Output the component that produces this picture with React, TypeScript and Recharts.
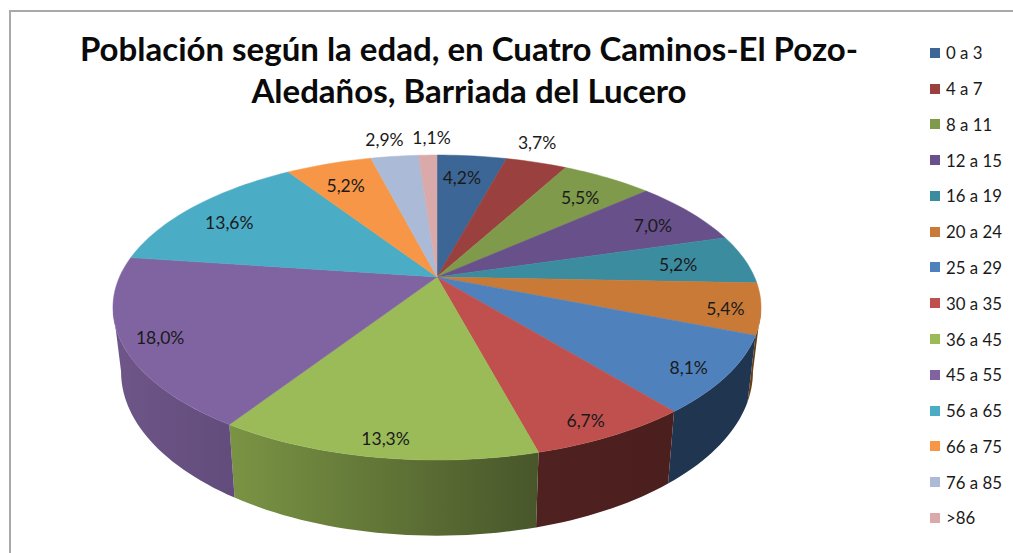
import { Legend, Pie, PieChart } from "recharts";

const ageGroups = ["0 a 3", "4 a 7", "8 a 11", "12 a 15", "16 a 19", "20 a 24", "25 a 29", "30 a 35", "36 a 45", "45 a 55", "56 a 65", "66 a 75", "76 a 85", ">86"];
const shares = [4.2, 3.7, 5.5, 7.0, 5.2, 5.4, 8.1, 6.7, 13.3, 18.0, 13.6, 5.2, 2.9, 1.1];
const topColors = ["#3C6695", "#9A403E", "#7E9A4A", "#68508A", "#3C8CA0", "#C97A36", "#4F81BD", "#C0504D", "#9BBB59", "#8064A2", "#4BACC6", "#F79646", "#AABAD7", "#D9AAA9"];
// wall shading, left and right end of each slice's visible side
const wallLeft = ["#000", "#000", "#000", "#000", "#000", "#6B4216", "#1F3550", "#4F2120", "#7A9444", "#6E5788", "#000", "#000", "#000", "#000"];
const wallRight = ["#000", "#000", "#000", "#000", "#000", "#5E3A12", "#1F3550", "#4B1F1E", "#48562A", "#624C7C", "#000", "#000", "#000", "#000"];

const pieData = ageGroups.map((name, i) => ({ name, value: shares[i], fill: topColors[i] }));

// small hand nudges so the labels land where Excel's best fit put them
const labelDx = [-4, -14, 3, 10, -6, -2, -6, -6, 3, 4, -10, -2, -4, 5];
const labelDy = [1, -3, 2, 1, 2, 3, 3, 4, 3, 1, 3, 2, 1, 0];

const TILT = 0.461;
const PERSPECTIVE = 0.2;
// the rim is widest here, so the sides of the wall are tangent at these angles
const WALL_FROM = 101.4;
const WALL_TO = 258.6;

// angle is degrees clockwise from 12 o'clock, r is a fraction of the radius
const project = (cx: number, cy: number, radius: number, angle: number, r = 1) => {
  const rad = (angle * Math.PI) / 180;
  const depth = -Math.cos(rad) * r;
  const s = 1 / (1 - PERSPECTIVE * depth);
  return [cx + radius * Math.sin(rad) * r * s, cy + radius * TILT * depth * s];
};

// the lower rim sits a little narrower and further down than the upper one
const dropToBase = (cx: number, cy: number, [x, y]: number[]) => [cx + (x - cx) * 0.975, cy + 62 + (y - cy) * 1.075];

const arc = (cx: number, cy: number, radius: number, from: number, to: number) => {
  const steps = Math.max(2, Math.ceil((to - from) / 1.5));
  const pts: number[][] = [];
  for (let i = 0; i <= steps; i++) {
    pts.push(project(cx, cy, radius, from + ((to - from) * i) / steps));
  }
  return pts;
};

const toPath = (pts: number[][]) => pts.map((p, i) => `${i ? "L" : "M"}${p[0].toFixed(2)} ${p[1].toFixed(2)}`).join(" ") + " Z";

const Slice3D = (props: any) => {
  const { cx, cy, outerRadius, startAngle, endAngle, fill, index } = props;
  const from = 90 - startAngle;
  const to = 90 - endAngle;
  const rim = arc(cx, cy, outerRadius, from, to);
  const wallA = Math.max(from, WALL_FROM);
  const wallB = Math.min(to, WALL_TO);
  let wall = null;
  if (wallB > wallA) {
    const upper = arc(cx, cy, outerRadius, wallA, wallB);
    const lower = upper.map((p) => dropToBase(cx, cy, p)).reverse();
    const xs = [...upper, ...lower].map((p) => p[0]);
    const id = `wall-${index}`;
    wall = (
      <>
        <defs>
          <linearGradient id={id} gradientUnits="userSpaceOnUse" x1={Math.min(...xs)} y1={0} x2={Math.max(...xs)} y2={0}>
            <stop offset="0%" stopColor={wallLeft[index]} />
            <stop offset="100%" stopColor={wallRight[index]} />
          </linearGradient>
        </defs>
        <path d={toPath([...upper, ...lower])} fill={`url(#${id})`} />
      </>
    );
  }
  return (
    <g>
      {wall}
      <path d={toPath([[cx, cy], ...rim])} fill={fill} stroke={fill} strokeWidth={0.5} />
    </g>
  );
};

const SliceLabel = (props: any) => {
  const { cx, cy, outerRadius, midAngle, value, index } = props;
  const angle = 90 - midAngle;
  let r = 0.8;
  if (value < 4) r = 1.18;
  else if (angle > 90 && angle < 270) r = 0.9;
  const [x, y] = project(cx, cy, outerRadius, angle, r);
  return (
    <text x={x + labelDx[index]} y={y + labelDy[index]} textAnchor="middle" dominantBaseline="central" fontFamily="Lato" fontSize={17.5} fill="#1a1a1a">
      {value.toFixed(1).replace(".", ",")}%
    </text>
  );
};

const LegendList = (props: any) => (
  <div>
    {(props.payload || []).map((item: any) => (
      <div key={item.value} style={{ height: 35.77, display: "flex", alignItems: "center", fontFamily: "Lato", fontSize: 16.8, color: "#1a1a1a" }}>
        <span style={{ width: 10, height: 10, background: item.color, marginRight: 6, flex: "none" }} />
        {item.value}
      </div>
    ))}
  </div>
);

const titleStyle: any = {
  position: "absolute",
  left: 0,
  width: 938,
  textAlign: "center",
  fontFamily: "Lato",
  fontWeight: 700,
  fontSize: 33,
  color: "#0a0a0a",
  whiteSpace: "nowrap",
  lineHeight: "42px",
};

export default function App() {
  return (
    <div style={{ position: "fixed", left: 0, top: 0, width: 1013, height: 553, overflow: "hidden", background: "#fff" }}>
      <div style={{ position: "absolute", left: 9, top: 10, right: 0, bottom: 0, borderTop: "2px solid #A9A9A9", borderLeft: "2px solid #A9A9A9" }} />
      <div style={{ ...titleStyle, top: 27 }}>Población según la edad, en Cuatro Caminos-El Pozo-</div>
      <div style={{ ...titleStyle, top: 69 }}>Aledaños, Barriada del Lucero</div>
      <PieChart width={1013} height={553} margin={{ top: 0, right: 0, bottom: 0, left: 0 }} style={{ position: "absolute", left: 0, top: 0 }}>
        <Pie
          data={pieData}
          dataKey="value"
          nameKey="name"
          cx={437}
          cy={277}
          innerRadius={0}
          outerRadius={317.5}
          startAngle={90}
          endAngle={-270}
          stroke="none"
          shape={Slice3D}
          label={SliceLabel}
          labelLine={false}
          isAnimationActive={false}
        />
        <Legend content={LegendList} itemSorter={null} layout="vertical" align="right" verticalAlign="top" wrapperStyle={{ left: 930, top: 35, width: 83 }} />
      </PieChart>
    </div>
  );
}
